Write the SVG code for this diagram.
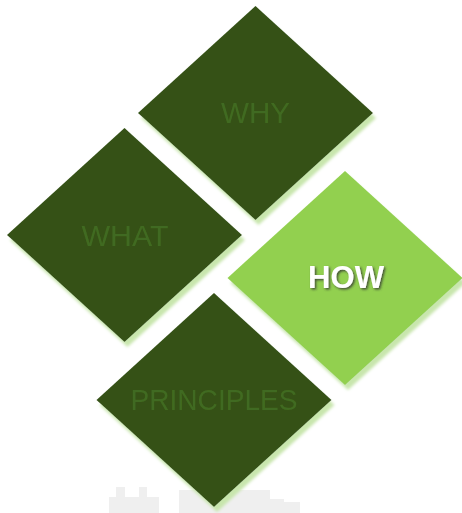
<svg xmlns="http://www.w3.org/2000/svg" width="462" height="513" viewBox="0 0 462 513">
<defs>
<filter id="sh" x="-10%" y="-10%" width="125%" height="125%">
<feGaussianBlur in="SourceAlpha" stdDeviation="1.8" result="b"/>
<feOffset in="b" dx="3" dy="5" result="o"/>
<feFlood flood-color="#c8e6ad"/>
<feComposite in2="o" operator="in" result="s"/>
<feMerge><feMergeNode in="s"/><feMergeNode in="SourceGraphic"/></feMerge>
</filter>
<filter id="tsh" x="-10%" y="-20%" width="130%" height="150%">
<feDropShadow dx="1.5" dy="1.5" stdDeviation="0.8" flood-color="#333333" flood-opacity="0.8"/>
</filter>
</defs>
<style>
.dark{fill:#345116}
.light{fill:#92d050}
.lbl{font-family:"Liberation Sans",Arial,sans-serif;font-size:30px;fill:#416b20;text-anchor:middle}
.how{font-family:"Liberation Sans",Arial,sans-serif;font-size:31px;font-weight:bold;fill:#ffffff;text-anchor:middle}
.bg{fill:#efefef}
</style>
<g id="background">
<polygon class="bg" points="109,513 109,497 116,497 116,487 125,487 125,497 139,497 139,487 147,487 147,497 159,497 159,513"/>
<polygon class="bg" points="179,513 179,490 270,490 270,499 284,499 284,502 300,502 300,513"/>
</g>
<g id="why" filter="url(#sh)">
<polygon class="dark" points="255.5,6 373,113 255.5,220 138,113"/>
<text class="lbl" x="255.5" y="123" textLength="69" lengthAdjust="spacingAndGlyphs">WHY</text>
</g>
<g id="what" filter="url(#sh)">
<polygon class="dark" points="124.5,128 242,235 124.5,342 7,235"/>
<text class="lbl" x="125" y="246" textLength="87" lengthAdjust="spacingAndGlyphs">WHAT</text>
</g>
<g id="how" filter="url(#sh)">
<polygon class="light" points="345,171 462.5,278 345,385 227.5,278"/>
<text class="how" x="346" y="288" filter="url(#tsh)" textLength="76" lengthAdjust="spacingAndGlyphs">HOW</text>
</g>
<g id="principles" filter="url(#sh)">
<polygon class="dark" points="214,293 331.5,400 214,507 96.5,400"/>
<text class="lbl" x="214" y="410" textLength="167" lengthAdjust="spacingAndGlyphs">PRINCIPLES</text>
</g>
<g id="connectors"/>
</svg>
